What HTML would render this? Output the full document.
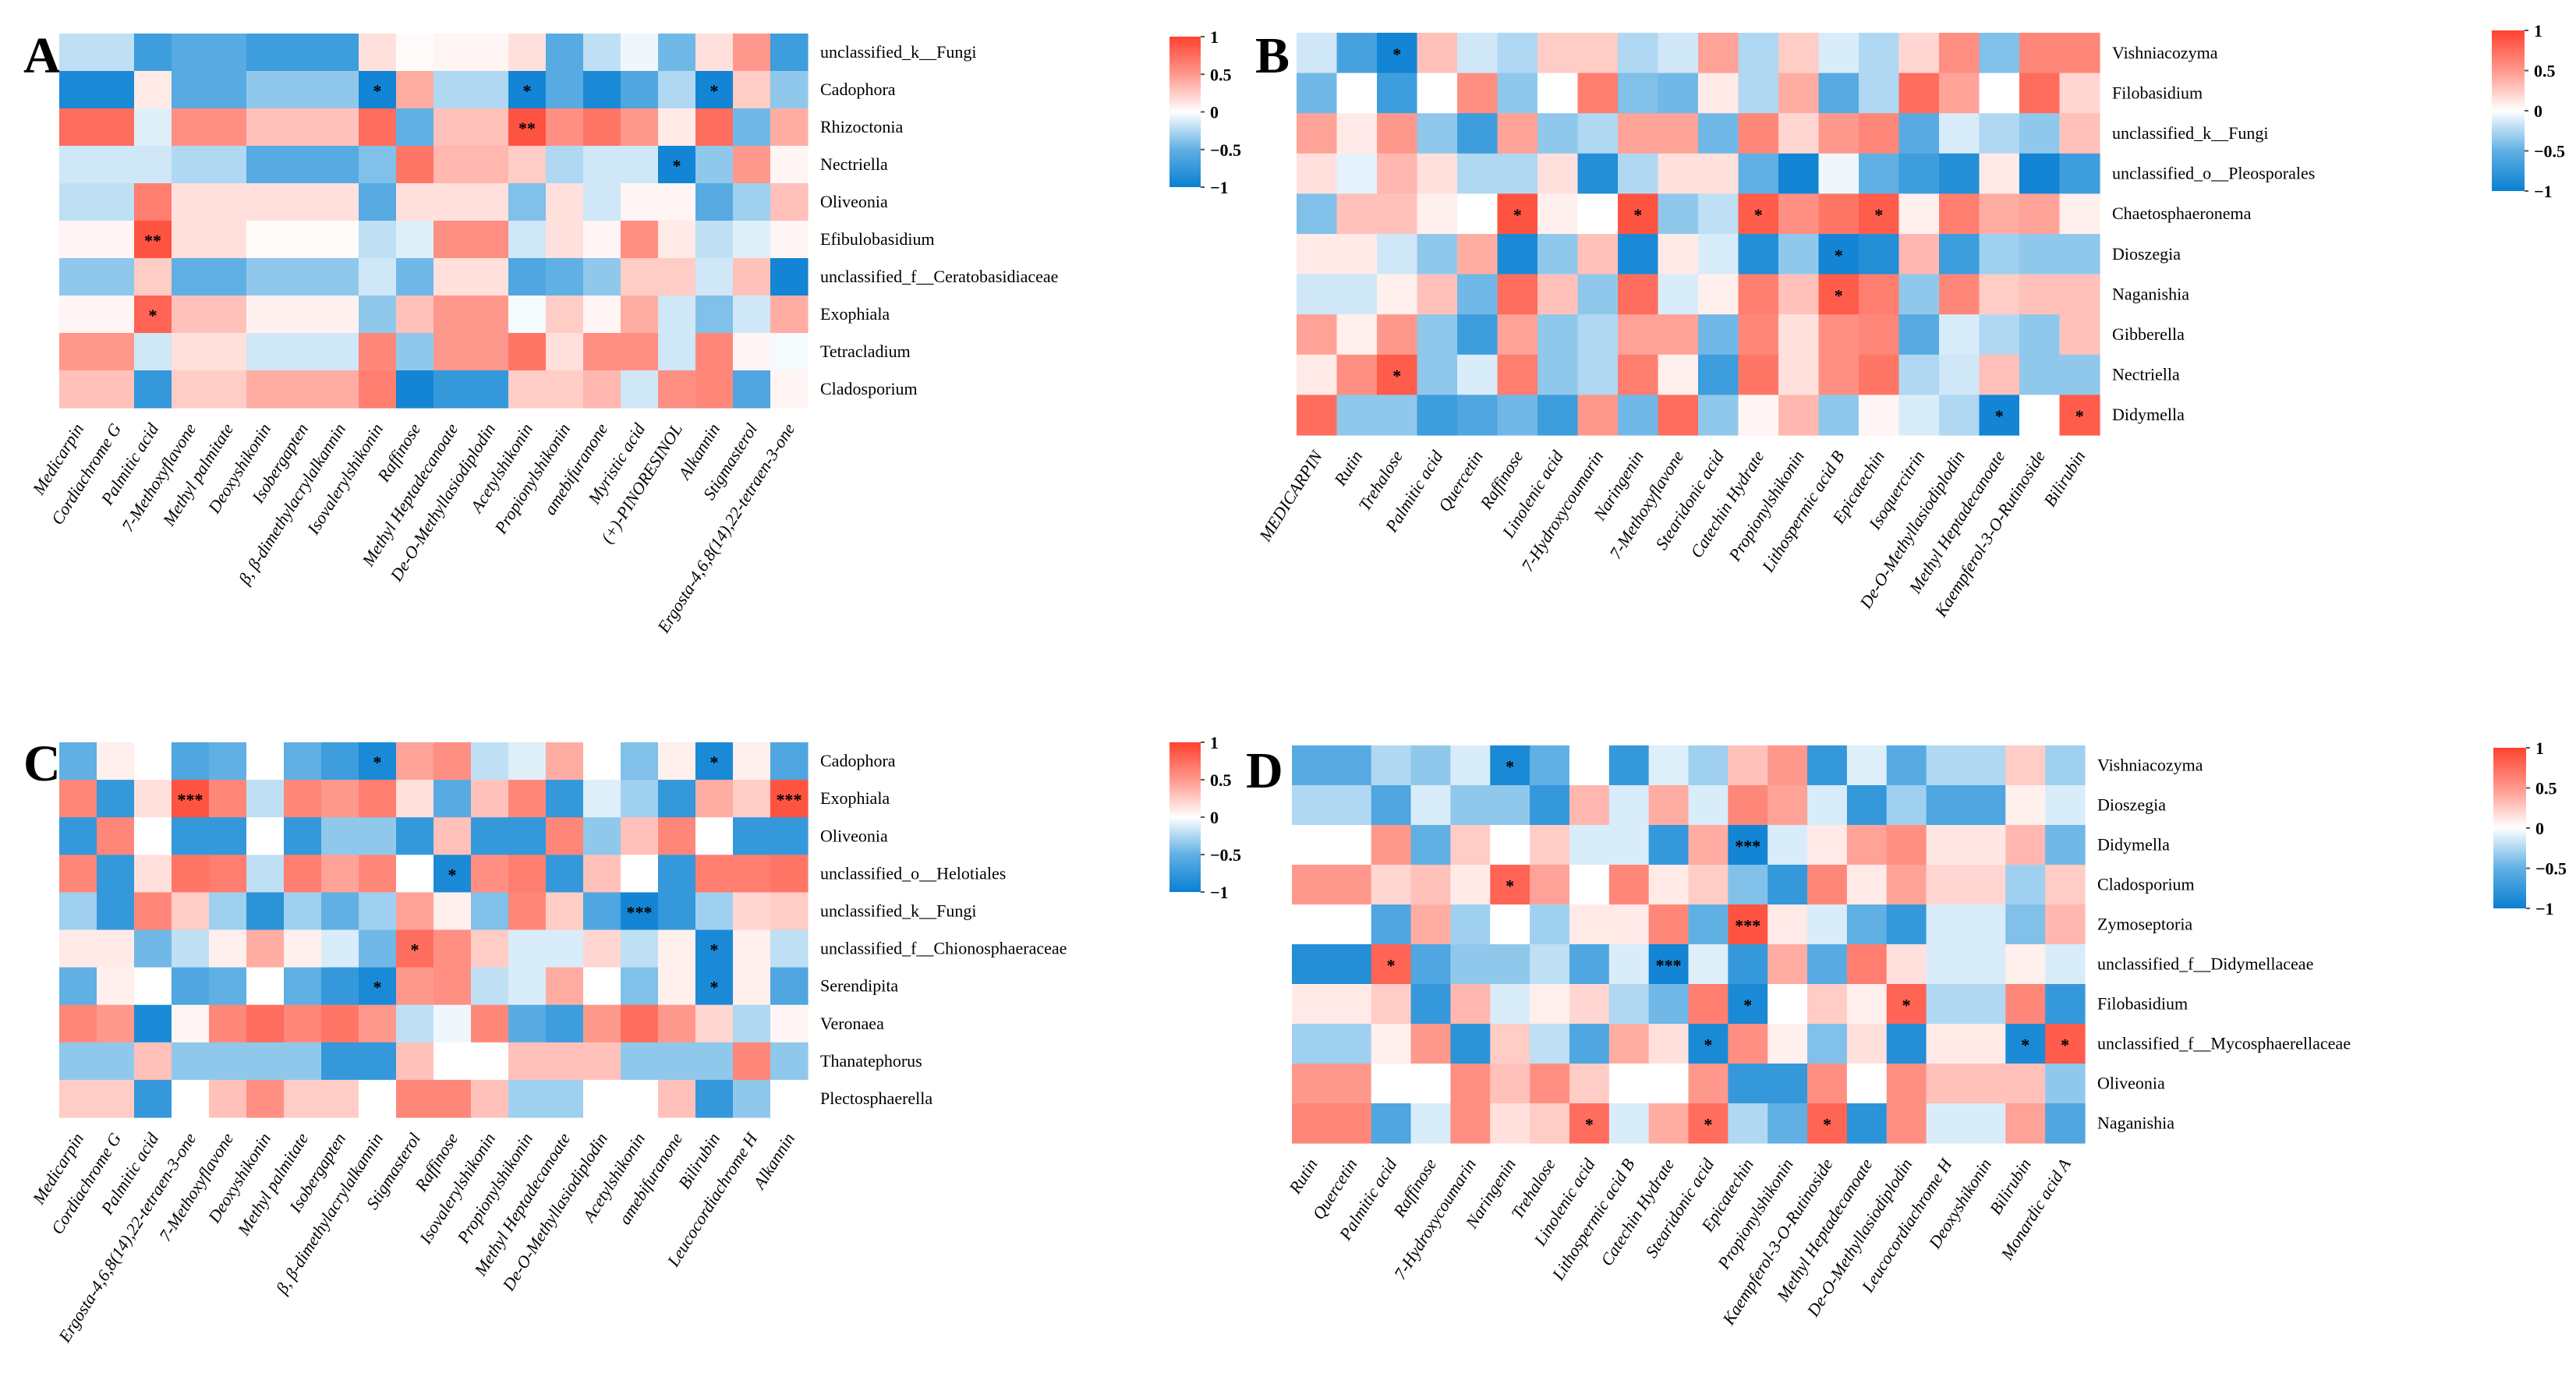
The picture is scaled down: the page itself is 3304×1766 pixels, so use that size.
<!DOCTYPE html>
<html><head><meta charset="utf-8">
<style>
html,body{margin:0;padding:0;background:#fff;}
svg{display:block;}
text{font-family:"Liberation Serif","DejaVu Serif",serif;}
</style></head>
<body>
<svg id="fig" width="3304" height="1766" viewBox="0 0 3304 1766" xmlns="http://www.w3.org/2000/svg"></svg>
<script>
// ---------- Panel A data ----------
const aRows = ["unclassified_k__Fungi","Cadophora","Rhizoctonia","Nectriella","Oliveonia","Efibulobasidium","unclassified_f__Ceratobasidiaceae","Exophiala","Tetracladium","Cladosporium"];
const aCols = ["Medicarpin","Cordiachrome G","Palmitic acid","7-Methoxyflavone","Methyl palmitate","Deoxyshikonin","Isobergapten","β, β-dimethylacrylalkannin","Isovalerylshikonin","Raffinose","Methyl Heptadecanoate","De-O-Methyllasiodiplodin","Acetylshikonin","Propionylshikonin","amebifuranone","Myristic acid","(+)-PINORESINOL","Alkannin","Stigmasterol","Ergosta-4,6,8(14),22-tetraen-3-one"];
const aVals = [
[-0.2,-0.2,-0.7,-0.55,-0.55,-0.7,-0.7,-0.7,0.15,0.02,0.05,0.05,0.15,-0.55,-0.2,-0.05,-0.45,0.15,0.5,-0.7],
[-0.9,-0.9,0.1,-0.55,-0.55,-0.35,-0.35,-0.35,-0.95,0.4,-0.25,-0.25,-0.95,-0.55,-0.9,-0.6,-0.25,-0.95,0.25,-0.35],
[0.75,0.75,-0.1,0.55,0.55,0.3,0.3,0.3,0.75,-0.5,0.3,0.3,0.9,0.55,0.7,0.5,0.1,0.75,-0.45,0.4],
[-0.15,-0.15,-0.15,-0.25,-0.25,-0.55,-0.55,-0.55,-0.4,0.7,0.35,0.35,0.25,-0.25,-0.15,-0.15,-0.95,-0.35,0.5,0.05],
[-0.2,-0.2,0.65,0.15,0.15,0.15,0.15,0.15,-0.55,0.15,0.15,0.15,-0.4,0.15,-0.15,0.05,0.05,-0.55,-0.3,0.3],
[0.05,0.05,0.9,0.15,0.15,0.02,0.02,0.02,-0.2,-0.1,0.55,0.55,-0.15,0.15,0.05,0.55,0.1,-0.2,-0.1,0.05],
[-0.35,-0.35,0.25,-0.5,-0.5,-0.35,-0.35,-0.35,-0.15,-0.45,0.15,0.15,-0.6,-0.5,-0.35,0.25,0.25,-0.15,0.3,-0.95],
[0.05,0.05,0.8,0.3,0.3,0.07,0.07,0.07,-0.35,0.3,0.5,0.5,-0.03,0.25,0.05,0.4,-0.15,-0.4,-0.15,0.4],
[0.5,0.5,-0.15,0.15,0.15,-0.15,-0.15,-0.15,0.6,-0.35,0.5,0.5,0.7,0.15,0.55,0.55,-0.15,0.6,0.05,-0.03],
[0.3,0.3,-0.75,0.25,0.25,0.4,0.4,0.4,0.65,-0.95,-0.75,-0.75,0.25,0.25,0.35,-0.15,0.55,0.6,-0.6,0.05]];
const aSig = [[1,8,"*"],[1,12,"*"],[1,17,"*"],[2,12,"**"],[3,16,"*"],[5,2,"**"],[7,2,"*"]];

// ---------- Panel B data ----------
const bRows = ["Vishniacozyma","Filobasidium","unclassified_k__Fungi","unclassified_o__Pleosporales","Chaetosphaeronema","Dioszegia","Naganishia","Gibberella","Nectriella","Didymella"];
const bCols = ["MEDICARPIN","Rutin","Trehalose","Palmitic acid","Quercetin","Raffinose","Linolenic acid","7-Hydroxycoumarin","Naringenin","7-Methoxyflavone","Stearidonic acid","Catechin Hydrate","Propionylshikonin","Lithospermic acid B","Epicatechin","Isoquercitrin","De-O-Methyllasiodiplodin","Methyl Heptadecanoate","Kaempferol-3-O-Rutinoside","Bilirubin"];
const bVals = [
[-0.15,-0.65,-0.95,0.3,-0.15,-0.25,0.25,0.25,-0.25,-0.15,0.45,-0.25,0.25,-0.12,-0.25,0.2,0.55,-0.4,0.6,0.6],
[-0.45,0,-0.7,0,0.55,-0.35,0,0.65,-0.4,-0.45,0.1,-0.25,0.4,-0.55,-0.25,0.75,0.45,0,0.75,0.2],
[0.45,0.1,0.5,-0.35,-0.7,0.45,-0.35,-0.25,0.45,0.45,-0.45,0.6,0.2,0.5,0.6,-0.55,-0.12,-0.25,-0.35,0.3],
[0.15,-0.08,0.35,0.15,-0.25,-0.25,0.15,-0.85,-0.25,0.15,0.15,-0.5,-0.95,-0.05,-0.5,-0.7,-0.85,0.1,-0.95,-0.7],
[-0.4,0.3,0.3,0.08,0,0.9,0.08,0,0.9,-0.35,-0.2,0.85,0.55,0.7,0.85,0.08,0.65,0.4,0.45,0.08],
[0.1,0.1,-0.15,-0.35,0.4,-0.9,-0.35,0.3,-0.9,0.1,-0.12,-0.85,-0.35,-0.95,-0.85,0.35,-0.7,-0.3,-0.35,-0.35],
[-0.15,-0.15,0.08,0.3,-0.45,0.75,0.3,-0.35,0.75,-0.12,0.08,0.65,0.3,0.85,0.65,-0.35,0.6,0.25,0.3,0.3],
[0.45,0.08,0.5,-0.35,-0.7,0.45,-0.35,-0.25,0.45,0.45,-0.45,0.6,0.15,0.55,0.6,-0.55,-0.12,-0.25,-0.35,0.3],
[0.1,0.55,0.85,-0.35,-0.12,0.65,-0.35,-0.25,0.65,0.08,-0.7,0.7,0.15,0.55,0.7,-0.25,-0.15,0.3,-0.35,-0.35],
[0.75,-0.35,-0.35,-0.7,-0.6,-0.45,-0.7,0.5,-0.45,0.75,-0.35,0.05,0.35,-0.35,0.05,-0.12,-0.25,-0.95,0,0.85]];
const bSig = [[0,2,"*"],[4,5,"*"],[4,8,"*"],[4,11,"*"],[4,14,"*"],[5,13,"*"],[6,13,"*"],[8,2,"*"],[9,17,"*"],[9,19,"*"]];

// ---------- Panel C data ----------
const cRows = ["Cadophora","Exophiala","Oliveonia","unclassified_o__Helotiales","unclassified_k__Fungi","unclassified_f__Chionosphaeraceae","Serendipita","Veronaea","Thanatephorus","Plectosphaerella"];
const cCols = ["Medicarpin","Cordiachrome G","Palmitic acid","Ergosta-4,6,8(14),22-tetraen-3-one","7-Methoxyflavone","Deoxyshikonin","Methyl palmitate","Isobergapten","β, β-dimethylacrylalkannin","Stigmasterol","Raffinose","Isovalerylshikonin","Propionylshikonin","Methyl Heptadecanoate","De-O-Methyllasiodiplodin","Acetylshikonin","amebifuranone","Bilirubin","Leucocordiachrome H","Alkannin"];
const cVals = [
[-0.5,0.08,0,-0.6,-0.5,0,-0.5,-0.7,-0.9,0.45,0.55,-0.2,-0.1,0.4,0,-0.4,0.08,-0.9,0.08,-0.6],
[0.6,-0.75,0.15,0.9,0.6,-0.2,0.6,0.5,0.65,0.15,-0.55,0.3,0.6,-0.75,-0.1,-0.3,-0.75,0.4,0.25,0.9],
[-0.75,0.6,0,-0.75,-0.75,0,-0.75,-0.35,-0.35,-0.75,0.3,-0.75,-0.75,0.6,-0.35,0.3,0.6,0,-0.75,-0.75],
[0.6,-0.75,0.15,0.7,0.65,-0.2,0.65,0.45,0.6,0,-0.9,0.55,0.65,-0.75,0.3,0,-0.75,0.65,0.65,0.7],
[-0.3,-0.75,0.6,0.25,-0.3,-0.8,-0.3,-0.5,-0.3,0.45,0.08,-0.4,0.6,0.25,-0.6,-0.95,-0.75,-0.3,0.2,0.25],
[0.1,0.1,-0.45,-0.2,0.08,0.4,0.08,-0.12,-0.45,0.75,0.55,0.25,-0.12,-0.12,0.2,-0.2,0.08,-0.9,0.08,-0.2],
[-0.5,0.08,0,-0.6,-0.5,0,-0.5,-0.75,-0.9,0.5,0.55,-0.2,-0.12,0.4,0,-0.4,0.08,-0.9,0.08,-0.6],
[0.6,0.5,-0.9,0.05,0.6,0.75,0.6,0.7,0.5,-0.2,-0.05,0.6,-0.55,-0.7,0.5,0.75,0.5,0.2,-0.25,0.05],
[-0.35,-0.35,0.3,-0.35,-0.35,-0.35,-0.35,-0.75,-0.75,0.3,0,0,0.3,0.3,0.3,-0.35,-0.35,-0.35,0.6,-0.35],
[0.25,0.25,-0.75,0,0.3,0.55,0.25,0.25,0,0.6,0.6,0.3,-0.3,-0.3,0,0,0.3,-0.75,-0.35,0]];
const cSig = [[0,8,"*"],[0,17,"*"],[1,3,"***"],[1,19,"***"],[3,10,"*"],[4,15,"***"],[5,9,"*"],[5,17,"*"],[6,8,"*"],[6,17,"*"]];

// ---------- Panel D data ----------
const dRows = ["Vishniacozyma","Dioszegia","Didymella","Cladosporium","Zymoseptoria","unclassified_f__Didymellaceae","Filobasidium","unclassified_f__Mycosphaerellaceae","Oliveonia","Naganishia"];
const dCols = ["Rutin","Quercetin","Palmitic acid","Raffinose","7-Hydroxycoumarin","Naringenin","Trehalose","Linolenic acid","Lithospermic acid B","Catechin Hydrate","Stearidonic acid","Epicatechin","Propionylshikonin","Kaempferol-3-O-Rutinoside","Methyl Heptadecanoate","De-O-Methyllasiodiplodin","Leucocordiachrome H","Deoxyshikonin","Bilirubin","Monardic acid A"];
const dVals = [
[-0.55,-0.55,-0.25,-0.35,-0.12,-0.9,-0.5,0,-0.75,-0.1,-0.3,0.3,0.5,-0.75,-0.1,-0.55,-0.25,-0.25,0.25,-0.3],
[-0.25,-0.25,-0.6,-0.12,-0.35,-0.35,-0.75,0.35,-0.12,0.4,-0.12,0.6,0.45,-0.12,-0.75,-0.3,-0.6,-0.6,0.08,-0.12],
[0,0,0.5,-0.5,0.25,0,0.25,-0.12,-0.12,-0.75,0.4,-0.95,-0.12,0.1,0.45,0.55,0.12,0.12,0.35,-0.45],
[0.5,0.5,0.2,0.3,0.1,0.8,0.45,0,0.6,0.1,0.25,-0.4,-0.75,0.6,0.1,0.45,0.2,0.2,-0.3,0.25],
[0,0,-0.6,0.4,-0.3,0,-0.3,0.1,0.1,0.6,-0.5,0.9,0.1,-0.12,-0.5,-0.75,-0.12,-0.12,-0.4,0.35],
[-0.85,-0.85,0.8,-0.6,-0.35,-0.35,-0.2,-0.6,-0.12,-0.95,-0.1,-0.75,0.4,-0.55,0.65,0.15,-0.12,-0.12,0.08,-0.12],
[0.1,0.1,0.25,-0.75,0.35,-0.12,0.08,0.2,-0.25,-0.45,0.65,-0.9,0,0.25,0.08,0.8,-0.25,-0.25,0.6,-0.75],
[-0.3,-0.3,0.08,0.5,-0.8,0.25,-0.2,-0.6,0.4,0.15,-0.9,0.55,0.08,-0.4,0.15,-0.85,0.1,0.1,-0.9,0.85],
[0.5,0.5,0,0,0.55,0.3,0.55,0.25,0,0,0.5,-0.75,-0.75,0.55,0,0.55,0.3,0.3,0.3,-0.35],
[0.6,0.6,-0.6,-0.12,0.55,0.15,0.25,0.75,-0.12,0.4,0.75,-0.25,-0.5,0.8,-0.8,0.55,-0.12,-0.12,0.45,-0.6]];
const dSig = [[0,5,"*"],[2,11,"***"],[3,5,"*"],[4,11,"***"],[5,2,"*"],[5,9,"***"],[6,11,"*"],[6,15,"*"],[7,10,"*"],[7,18,"*"],[7,19,"*"],[9,7,"*"],[9,10,"*"],[9,13,"*"]];

const legendTicks = [1,0.5,0,-0.5,-1];
const legendTickLabels = ["1","0.5","0","\u22120.5","\u22121"];

// ---------- rendering ----------
const NS = "http://www.w3.org/2000/svg";
const svg = document.getElementById("fig");
function mk(tag, attrs, parent){
  const e = document.createElementNS(NS, tag);
  for (const k in attrs) e.setAttribute(k, attrs[k]);
  (parent||svg).appendChild(e);
  return e;
}
const stops = [[-1,[10,128,210]],[-0.5,[96,176,228]],[0,[255,255,255]],[0.5,[255,152,140]],[1,[255,66,48]]];
function color(v){
  v = Math.max(-1, Math.min(1, v));
  for (let i=0;i<stops.length-1;i++){
    const [a,ca]=stops[i],[b,cb]=stops[i+1];
    if (v>=a && v<=b){
      const t=(v-a)/(b-a);
      const c=ca.map((x,j)=>Math.round(x+(cb[j]-x)*t));
      return "rgb("+c.join(",")+")";
    }
  }
  return "#fff";
}

function drawPanel(p, rows, cols, vals, sig){
  const g = mk("g", {});
  
  
  const cw = p.w / cols.length, rh = p.h / rows.length;
  const xs = i => p.x + i*cw;
  const ys = j => p.y + j*rh;
  // letter
  const L = mk("text", {x:p.lx, y:p.ly, "font-size":66, "font-weight":"bold"}, g);
  L.textContent = p.id.toUpperCase();
  
  
  // cells
  for (let r=0;r<rows.length;r++){
    for (let c=0;c<cols.length;c++){
      const rc = mk("rect", {x:xs(c), y:ys(r), width:cw+0.6, height:rh+0.6, fill:color(vals[r][c])}, g);
      
      
    }
  }
  // significance marks
  sig.forEach(s=>{
    const t = mk("text", {x:xs(s[1])+cw/2, y:ys(s[0])+rh/2+9, "font-size":22, "font-weight":"bold", "text-anchor":"middle", fill:"#000"}, g);
    t.textContent = s[2];
    
    
  });
  // row labels
  rows.forEach((name,r)=>{
    const t = mk("text", {x:p.x+p.w+16, y:ys(r)+rh/2+7, "font-size":22}, g);
    t.textContent = name;
    
    
  });
  // column labels
  cols.forEach((name,c)=>{
    const ax = xs(c)+cw/2+8, ay = p.y+p.h+26;
    const t = mk("text", {x:ax, y:ay, "font-size":22, "font-style":"italic", "text-anchor":"end", transform:"rotate(-58 "+ax+" "+ay+")"}, g);
    t.textContent = name;
    
    
  });
  // legend
  const lg = mk("g", {}, g);
  
  
  const gid = "grad"+p.id;
  const defs = mk("defs", {}, lg);
  const grad = mk("linearGradient", {id:gid, x1:0, y1:0, x2:0, y2:1}, defs);
  for (let k=0;k<=20;k++){
    const v = 1 - k/10;
    mk("stop", {offset:(k*5)+"%", "stop-color":color(v)}, grad);
  }
  mk("rect", {x:p.cx, y:p.cy, width:p.cbw, height:p.cbh, fill:"url(#"+gid+")"}, lg);
  const ly = v => p.cy + (1 - v)/2 * p.cbh;
  legendTicks.forEach((v,i)=>{
    mk("line", {x1:p.cx+p.cbw, x2:p.cx+p.cbw+5, y1:ly(v), y2:ly(v), stroke:"#555", "stroke-width":2}, lg);
    const t = mk("text", {x:p.cx+p.cbw+12, y:ly(v)+8, "font-size":22, "font-weight":"bold"}, lg);
    t.textContent = legendTickLabels[i];
    
    
  });
}

drawPanel({id:"a", x:76, y:43, w:960, h:480, lx:30, ly:93, cx:1500, cy:47, cbw:40, cbh:193}, aRows, aCols, aVals, aSig);
drawPanel({id:"b", x:1663, y:42, w:1030, h:516, lx:1610, ly:93, cx:3196, cy:39, cbw:42, cbh:206}, bRows, bCols, bVals, bSig);
drawPanel({id:"c", x:76, y:952, w:960, h:481, lx:30, ly:1001, cx:1500, cy:952, cbw:40, cbh:192}, cRows, cCols, cVals, cSig);
drawPanel({id:"d", x:1657, y:956, w:1017, h:510, lx:1598, ly:1010, cx:3198, cy:959, cbw:42, cbh:206}, dRows, dCols, dVals, dSig);
</script>
</body></html>
